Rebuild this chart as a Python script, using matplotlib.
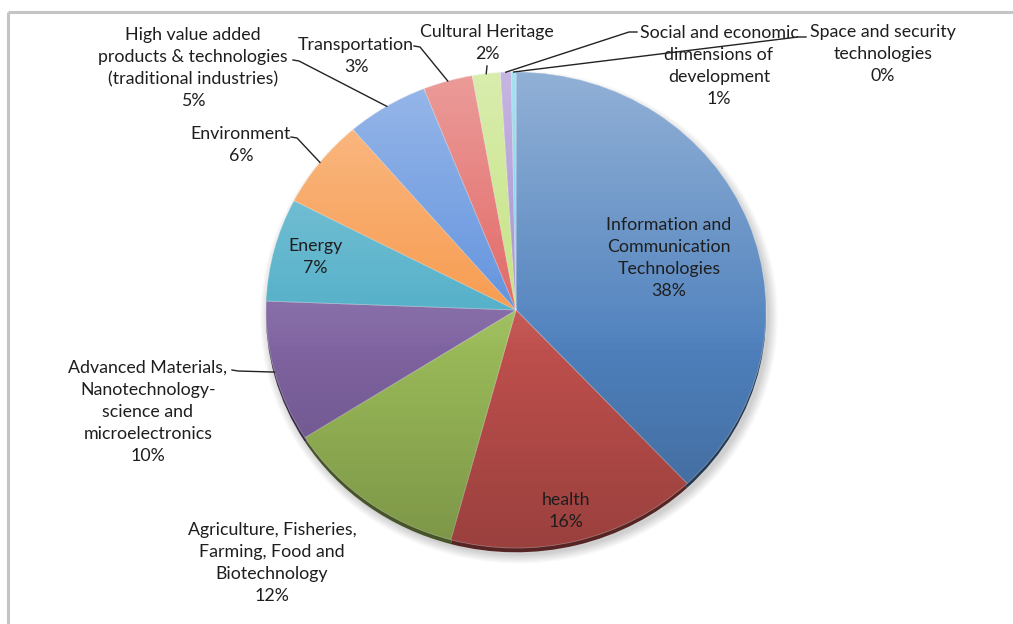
import numpy as np
import matplotlib
matplotlib.use('Agg')
import matplotlib.pyplot as plt
from matplotlib.patches import Circle, Ellipse
from matplotlib.colors import to_rgb

# research areas and their share of projects (%)
categories = [
    "Information and\nCommunication\nTechnologies",
    "health",
    "Agriculture, Fisheries,\nFarming, Food and\nBiotechnology",
    "Advanced Materials,\nNanotechnology-\nscience and\nmicroelectronics",
    "Energy",
    "Environment",
    "High value added\nproducts & technologies\n(traditional industries)",
    "Transportation",
    "Cultural Heritage",
    "Social and economic\ndimensions of\ndevelopment",
    "Space and security\ntechnologies",
]
shares = [38.0, 16.2, 11.8, 9.6, 7.0, 6.1, 5.3, 3.2, 1.8, 0.7, 0.3]

colors = ['#4f81bd', '#c0504d', '#9bbb59', '#8064a2', '#4bacc6', '#f79646',
          '#5a8ddc', '#e0605d', '#c2e27c', '#a38ad0', '#6fcfe8']

# label centres (pixels) and leader start points
label_xy = [(669, 258), (566, 511), (272, 563), (148, 412), (315, 257),
            (241, 145), (193, 68), (356, 56), (487, 43), (719, 66), (883, 54)]
leader_from = {3: (232, 370), 5: (291, 137), 6: (293, 60), 7: (414, 46),
               8: (487, 66), 9: (637, 32), 10: (806, 37)}

W, H = 1013, 624
fig = plt.figure(figsize=(W / 100, H / 100), dpi=100)
fig.patch.set_facecolor('white')

# pie geometry in pixels: centre and radii
cx, cy, rx, ry = 516, 310, 250, 238
pad = 1.1
ax = fig.add_axes([(cx - pad * rx) / W, 1 - (cy + pad * ry) / H,
                   2 * pad * rx / W, 2 * pad * ry / H])
ax.set_zorder(1)

# soft shadow
for k in range(8):
    ax.add_patch(Ellipse((0.012, -0.03), 2.0 + 0.01 * k, 2.0 + 0.01 * k,
                         facecolor='black', alpha=0.022, lw=0, zorder=0))

# dark rim under the pie
dark = [tuple(np.array(to_rgb(c)) * 0.45) for c in colors]
ax.pie(shares, colors=dark, startangle=90, counterclock=False,
       center=(0, -0.018), radius=1.0, wedgeprops=dict(linewidth=0))

wedges, _ = ax.pie(shares, colors=colors, startangle=90, counterclock=False,
                   center=(0, 0), radius=1.0,
                   wedgeprops=dict(linewidth=0.6, edgecolor=(1, 1, 1, 0.35)))

# vertical shading over the whole pie
yy = np.linspace(0, 1, 300)
light = np.clip(1 - yy / 0.6, 0, 1) * 0.38
shade = np.clip((yy - 0.55) / 0.45, 0, 1) * 0.2
img_l = np.zeros((300, 1, 4)); img_l[..., :3] = 1; img_l[:, 0, 3] = light
img_d = np.zeros((300, 1, 4)); img_d[:, 0, 3] = shade
for img in (img_l, img_d):
    im = ax.imshow(img, extent=(-1, 1, -1, 1), origin='upper', aspect='auto',
                   interpolation='bilinear', zorder=3)
    im.set_clip_path(Circle((0, 0), 1.0, transform=ax.transData))

ax.set_aspect('auto')
ax.set_xlim(-pad, pad)
ax.set_ylim(-pad, pad)
ax.axis('off')

# overlay in pixel coordinates for labels, leaders and frame
ov = fig.add_axes([0, 0, 1, 1])
ov.set_zorder(2)
ov.patch.set_alpha(0)
ov.set_xlim(0, W)
ov.set_ylim(H, 0)
ov.axis('off')

ov.plot([8, W], [12, 12], color='#c4c4c4', lw=2.2, solid_capstyle='butt')
ov.plot([8, 8], [12, H], color='#c4c4c4', lw=2.2, solid_capstyle='butt')

font = ['Lato', 'DejaVu Sans']
for i, (name, val) in enumerate(zip(categories, shares)):
    x, y = label_xy[i]
    ov.text(x, y, f"{name}\n{val:.0f}%", ha='center', va='center',
            fontsize=12.8, family=font, color='#1e1e1e', linespacing=1.46,
            zorder=5)

# leader lines from labels to the wedge mid-angles
cum = np.cumsum([0] + shares[:-1])
total = sum(shares)
for i, (sx, sy) in leader_from.items():
    theta = np.deg2rad(90 - 360 * (cum[i] + shares[i] / 2) / total)
    ex, ey = cx + rx * np.cos(theta), cy - ry * np.sin(theta)
    if i == 8:
        xs, ys = [sx, ex], [sy, ey]
    elif sx < ex:
        xs, ys = [sx, sx + 6, ex], [sy, sy + 1, ey]
    else:
        xs, ys = [sx, sx - 8, ex], [sy, sy, ey]
    ov.plot(xs, ys, color='#222222', lw=1.0, zorder=6)

fig.savefig('out.png', dpi=100)
